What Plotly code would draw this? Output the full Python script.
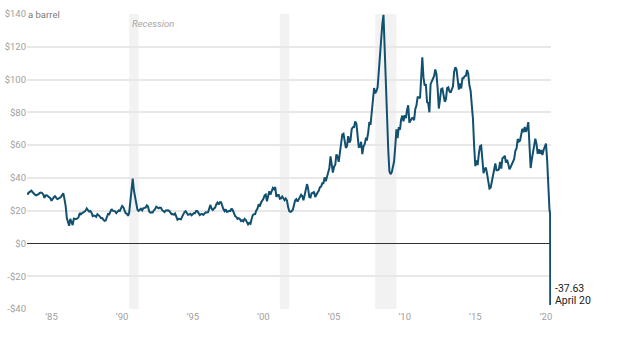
import pandas as pd
import plotly.graph_objects as go

# Monthly West Texas Intermediate crude price, $ per barrel, April 1983 - March 2020
start_month = "1983-04-01"
monthly_price = [
    # 1983 (Apr-Dec)
    30.6, 30.2, 31.2, 32.0, 32.2, 31.2, 30.2, 29.8, 29.4,
    # 1984
    29.7, 30.1, 30.8, 31.0, 30.7, 29.9, 27.8, 29.3, 29.4, 28.8, 28.1, 27.6,
    # 1985
    26.0, 27.3, 28.2, 28.8, 27.6, 27.1, 27.3, 27.8, 28.3, 29.5, 30.6, 27.2,
    # 1986
    22.9, 15.5, 12.6, 10.8, 15.0, 12.8, 11.2, 15.1, 14.9, 14.9, 15.2, 16.1,
    # 1987
    18.6, 17.8, 18.4, 18.7, 19.4, 20.0, 21.4, 20.3, 19.5, 19.8, 18.8, 16.7,
    # 1988
    17.0, 16.8, 16.2, 17.9, 17.4, 16.5, 15.5, 15.5, 14.5, 13.8, 14.0, 16.3,
    # 1989
    18.0, 17.8, 19.4, 21.0, 20.0, 20.0, 19.6, 18.5, 19.6, 20.1, 19.8, 21.1,
    # 1990
    22.9, 22.1, 20.4, 18.4, 18.2, 16.9, 18.6, 27.2, 33.7, 39.6, 32.3, 28.4,
    # 1991
    25.0, 20.5, 19.9, 20.8, 21.2, 20.2, 21.4, 21.7, 21.9, 23.2, 22.5, 19.5,
    # 1992
    18.8, 19.0, 18.9, 20.2, 20.9, 22.4, 21.8, 21.4, 21.9, 21.7, 20.3, 19.4,
    # 1993
    19.1, 20.1, 20.3, 20.3, 19.9, 19.1, 17.9, 18.0, 17.5, 18.2, 16.7, 14.5,
    # 1994
    15.0, 14.8, 14.7, 16.4, 17.9, 19.1, 19.7, 18.4, 17.5, 17.7, 18.1, 17.2,
    # 1995
    18.0, 18.6, 18.5, 19.9, 19.7, 18.4, 17.3, 17.9, 18.0, 17.4, 18.0, 19.0,
    # 1996
    18.9, 19.1, 21.3, 23.5, 21.2, 20.4, 21.3, 21.9, 23.9, 24.9, 23.7, 25.2,
    # 1997
    25.2, 22.2, 21.0, 19.7, 20.8, 19.2, 19.6, 19.9, 19.8, 21.3, 20.2, 18.3,
    # 1998
    16.7, 16.1, 15.0, 15.4, 14.9, 13.7, 14.2, 13.5, 15.0, 14.4, 12.9, 11.6,
    # 1999
    12.5, 12.0, 14.7, 17.3, 17.8, 17.9, 20.1, 21.3, 23.9, 22.6, 25.0, 26.1,
    # 2000
    27.2, 29.4, 29.9, 25.7, 28.8, 31.8, 29.7, 31.3, 33.9, 33.1, 34.4, 28.4,
    # 2001
    29.6, 29.6, 27.3, 27.5, 28.6, 27.6, 26.4, 27.4, 26.2, 22.2, 19.6, 19.3,
    # 2002
    19.7, 20.7, 24.4, 26.3, 27.0, 25.5, 26.9, 28.4, 29.7, 28.9, 26.3, 29.4,
    # 2003
    32.9, 36.2, 33.6, 28.3, 28.1, 30.7, 30.8, 31.6, 28.3, 30.3, 31.1, 32.1,
    # 2004
    34.3, 34.7, 36.7, 36.7, 40.3, 38.0, 40.8, 44.9, 46.0, 53.1, 48.5, 43.3,
    # 2005
    46.8, 48.0, 54.3, 53.0, 49.8, 56.3, 58.7, 66.5, 67.0, 62.4, 58.3, 59.4,
    # 2006
    65.5, 61.6, 62.9, 69.7, 70.9, 71.0, 74.4, 73.0, 63.8, 58.9, 59.1, 62.0,
    # 2007
    54.5, 59.3, 60.4, 63.9, 63.5, 67.5, 74.1, 72.4, 79.9, 85.8, 94.8, 91.7,
    # 2008
    93.0, 95.4, 105.5, 112.6, 125.4, 133.9, 139.5, 116.7, 104.1, 76.6, 57.3, 44.0,
    # 2009
    42.3, 43.5, 48.0, 50.0, 59.0, 69.6, 64.2, 71.0, 69.4, 75.7, 78.0, 74.5,
    # 2010
    78.3, 76.4, 81.2, 84.3, 73.7, 75.3, 76.3, 76.6, 75.2, 81.9, 84.3, 89.2,
    # 2011
    89.2, 88.6, 102.9, 113.5, 101.3, 96.3, 97.3, 86.3, 85.5, 80.0, 97.2, 98.6,
    # 2012
    100.3, 102.2, 106.2, 103.3, 94.7, 82.3, 87.9, 94.1, 94.5, 89.5, 86.5, 87.9,
    # 2013
    94.8, 95.3, 92.9, 92.0, 94.5, 95.8, 104.6, 107.5, 106.3, 100.5, 93.9, 97.6,
    # 2014
    94.6, 100.8, 100.8, 102.1, 102.2, 105.8, 103.6, 96.5, 93.2, 84.4, 75.8, 59.3,
    # 2015
    47.2, 50.6, 47.8, 54.5, 59.3, 59.8, 50.9, 42.9, 45.5, 46.2, 42.4, 37.2,
    # 2016
    33.5, 34.0, 38.0, 41.5, 46.7, 48.8, 44.7, 44.7, 45.2, 49.8, 45.7, 52.0,
    # 2017
    52.5, 53.5, 49.3, 51.1, 48.5, 45.2, 46.6, 48.0, 49.8, 51.6, 56.6, 57.9,
    # 2018
    63.7, 62.2, 62.7, 66.3, 70.0, 67.9, 71.0, 68.1, 70.2, 74.0, 57.0, 46.0,
    # 2019
    51.4, 55.0, 58.2, 63.9, 60.8, 54.7, 57.4, 54.8, 57.0, 54.0, 57.0, 59.9,
    # 2020 (Jan-Mar)
    61.0, 50.5, 29.2,
]

# Daily settlements in April 2020, ending with the negative close
april_dates = ["2020-04-01", "2020-04-17", "2020-04-20"]
april_price = [20.3, 18.3, -37.63]

# NBER recessions
recession_start = ["1990-07-01", "2001-03-01", "2007-12-01"]
recession_end = ["1991-03-01", "2001-11-01", "2009-06-01"]

x_tick_dates = ["1985-01-01", "1990-01-01", "1995-01-01", "2000-01-01",
                "2005-01-01", "2010-01-01", "2015-01-01", "2020-01-01"]
x_tick_labels = ["’85", "’90", "’95", "’00", "’05", "’10", "’15", "’20"]
y_tick_values = [-40, -20, 0, 20, 40, 60, 80, 100, 120, 140]
y_tick_labels = ["-$40", "-$20", "$0", "$20", "$40", "$60", "$80", "$100", "$120", "$140"]

dates = list(pd.date_range(start_month, periods=len(monthly_price), freq="MS"))
dates += list(pd.to_datetime(april_dates))
prices = monthly_price + april_price

FONT = "Roboto, sans-serif"
LINE = "#11506f"
LABEL = dict(family=FONT, size=10.5, color="#1a1a1a")

fig = go.Figure()
fig.add_trace(go.Scatter(
    x=dates, y=prices, mode="lines",
    line=dict(color=LINE, width=2), hoverinfo="skip", showlegend=False,
))

for s, e in zip(recession_start, recession_end):
    fig.add_shape(type="rect", xref="x", yref="paper", x0=s, x1=e, y0=0, y1=1,
                  fillcolor="#f2f2f2", line_width=0, layer="below")

fig.add_annotation(
    x=recession_start[0], y=140, xref="x", yref="y", xanchor="left", yanchor="top",
    text="<i>Recession</i>", showarrow=False, xshift=1, yshift=-2,
    font=dict(family=FONT, size=9.5, color="#a6a6a6"),
)
fig.add_annotation(
    x=0, y=140, xref="paper", yref="y", xanchor="left", yanchor="middle",
    text="a barrel", showarrow=False, xshift=-1, bgcolor="white", borderpad=1,
    font=dict(family=FONT, size=9.5, color="#7a7a7a"),
)

# Value label beside the final (negative) settlement
fig.add_annotation(
    x=april_dates[-1], y=april_price[-1], xref="x", yref="y",
    xanchor="left", yanchor="middle", showarrow=False,
    text=f"{april_price[-1]:.2f}", xshift=3, yshift=17, font=LABEL,
)
fig.add_annotation(
    x=april_dates[-1], y=april_price[-1], xref="x", yref="y",
    xanchor="left", yanchor="middle", showarrow=False,
    text="April 20", xshift=3, yshift=5, font=LABEL,
)

fig.update_layout(
    width=620, height=339,
    margin=dict(l=27, r=69, t=14, b=30),
    paper_bgcolor="white", plot_bgcolor="white",
    font=dict(family=FONT),
    xaxis=dict(
        range=["1983-04-08", "2020-05-10"], tickvals=x_tick_dates, ticktext=x_tick_labels,
        showgrid=False, zeroline=False, showline=False, ticks="",
        tickfont=dict(family=FONT, size=9.5, color="#a0a0a0"), automargin=False,
    ),
    yaxis=dict(
        range=[-40, 140], tickvals=y_tick_values, ticktext=y_tick_labels,
        showgrid=True, gridcolor="#e8e8e8", gridwidth=1.5,
        zeroline=True, zerolinecolor="#333333", zerolinewidth=1.2,
        showline=False, ticks="",
        tickfont=dict(family=FONT, size=9.5, color="#a0a0a0"), automargin=False,
    ),
)

fig.write_html("out.html")
